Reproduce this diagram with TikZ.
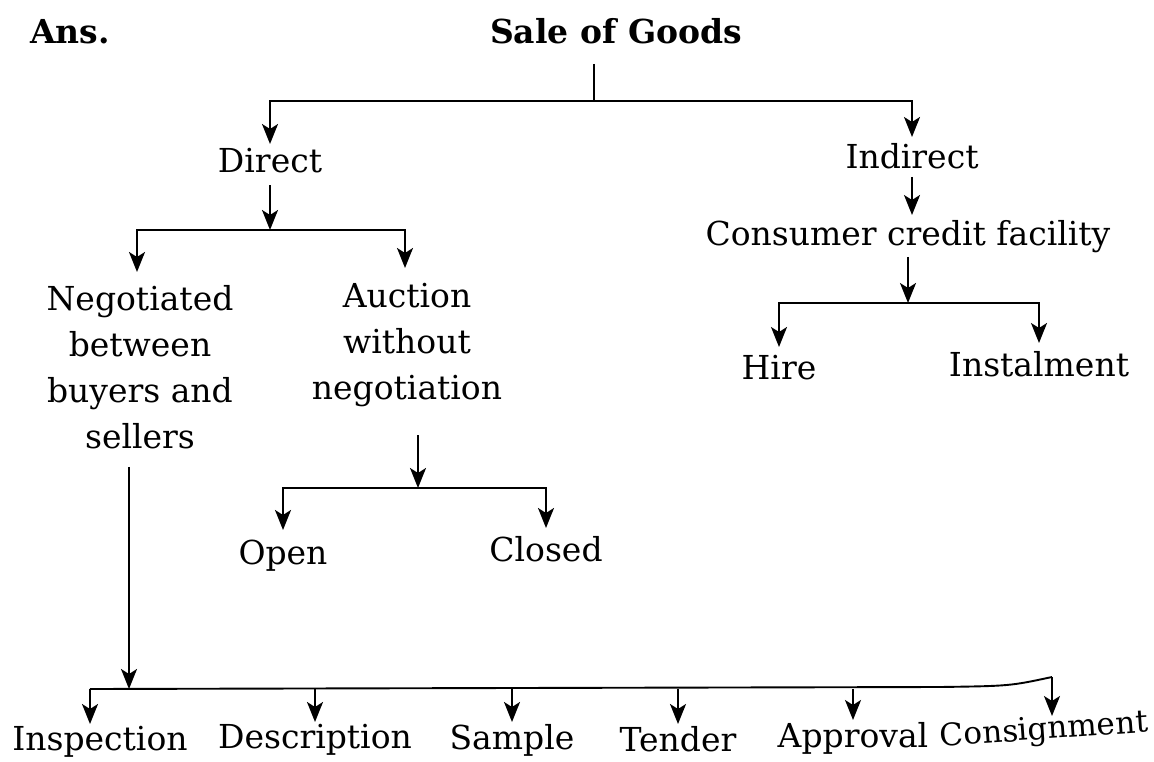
\documentclass[tikz,border=0pt]{standalone}
\usepackage{fontspec}
\setmainfont{DejaVu Serif}
\usetikzlibrary{arrows.meta}
\tikzset{
  lbl/.style={font=\fontsize{33}{46}\selectfont, inner sep=0pt, anchor=north, align=center},
  ttl/.style={font=\bfseries\fontsize{33}{40}\selectfont, inner sep=0pt, anchor=north},
  conn/.style={line width=1.9pt},
  arr/.style={conn, -{Stealth[length=20pt,width=16pt,inset=5pt]}},
}
\begin{document}
\begin{tikzpicture}[x=1pt,y=-1pt]
\useasboundingbox[fill=white] (0,0) rectangle (1154,762);
% titles
\node[ttl] (ans) at (70,19) {Ans.};
\node[ttl] (sale) at (616,18) {Sale of Goods};
% level 1
\node[lbl] (direct) at (270,148) {Direct};
\node[lbl] (indirect) at (912,143) {Indirect};
% level 2
\node[lbl] (neg) at (140,285) {Negotiated\\between\\buyers and\\sellers};
\node[lbl] (auc) at (407,283) {Auction\\without\\negotiation};
\node[lbl] (ccf) at (908,220) {Consumer credit facility};
% level 3
\node[lbl] (hire) at (779,355) {Hire};
\node[lbl] (inst) at (1039,351) {Instalment};
\node[lbl] (open) at (283,540) {Open};
\node[lbl] (closed) at (546,536) {Closed};
% bottom
\node[lbl] (insp) at (100,726) {Inspection};
\node[lbl] (desc) at (315,724) {Description};
\node[lbl] (sample) at (512,724) {Sample};
\node[lbl] (tender) at (678,726) {Tender};
\node[lbl] (appr) at (853,722) {Approval};
\node[lbl, font=\fontsize{31}{40}\selectfont, rotate=4] (cons) at (1043,716) {Consignment};
% junctions
\coordinate (s1) at (594,101);
\coordinate (d1) at (270,230);
\coordinate (c1) at (908,303);
\coordinate (a1) at (418,488);
\coordinate (bl) at (90,689);
\coordinate (bn) at (129,689);
\coordinate (br) at (1052,677);
% connectors
\draw[conn, shorten <=20pt] (sale.south -| s1) -- (s1);
\draw[arr, shorten >=4pt] (s1) -| (direct.north);
\draw[arr, shorten >=6pt] (s1) -| (indirect.north);
\draw[arr, shorten <=12pt] (direct.south) -- (d1);
\draw[arr, shorten >=13pt] (d1) -| ([xshift=-3pt]neg.north);
\draw[arr, shorten >=15pt] (d1) -| ([xshift=-2pt]auc.north);
\draw[arr, shorten <=8pt, shorten >=5pt] (indirect.south) -- (indirect.south |- ccf.north);
\draw[arr, shorten <=4pt] (ccf.south) -- (c1);
\draw[arr, shorten >=8pt] (c1) -| (hire.north);
\draw[arr, shorten >=8pt] (c1) -| (inst.north);
\draw[arr, shorten <=28pt] (auc.south -| a1) -- (a1);
\draw[arr, shorten >=10pt] (a1) -| (open.north);
\draw[arr, shorten >=8pt] (a1) -| (closed.north);
\draw[arr, shorten <=18pt] (neg.south -| bn) -- (bn);
\draw[conn] (bl) -- (940,687) .. controls (1010,686) .. (br);
\draw[arr, shorten >=2pt] (bl) -- (bl |- insp.north);
\draw[arr, shorten >=2pt] (desc.north |- bl) -- (desc.north);
\draw[arr, shorten >=2pt] (sample.north |- bl) -- (sample.north);
\draw[arr, shorten >=2pt] (tender.north |- bl) -- (tender.north);
\draw[arr, shorten >=2pt] (appr.north |- bl) -- (appr.north);
\draw[arr] (br) -- (br |- cons.north);
\end{tikzpicture}
\end{document}
